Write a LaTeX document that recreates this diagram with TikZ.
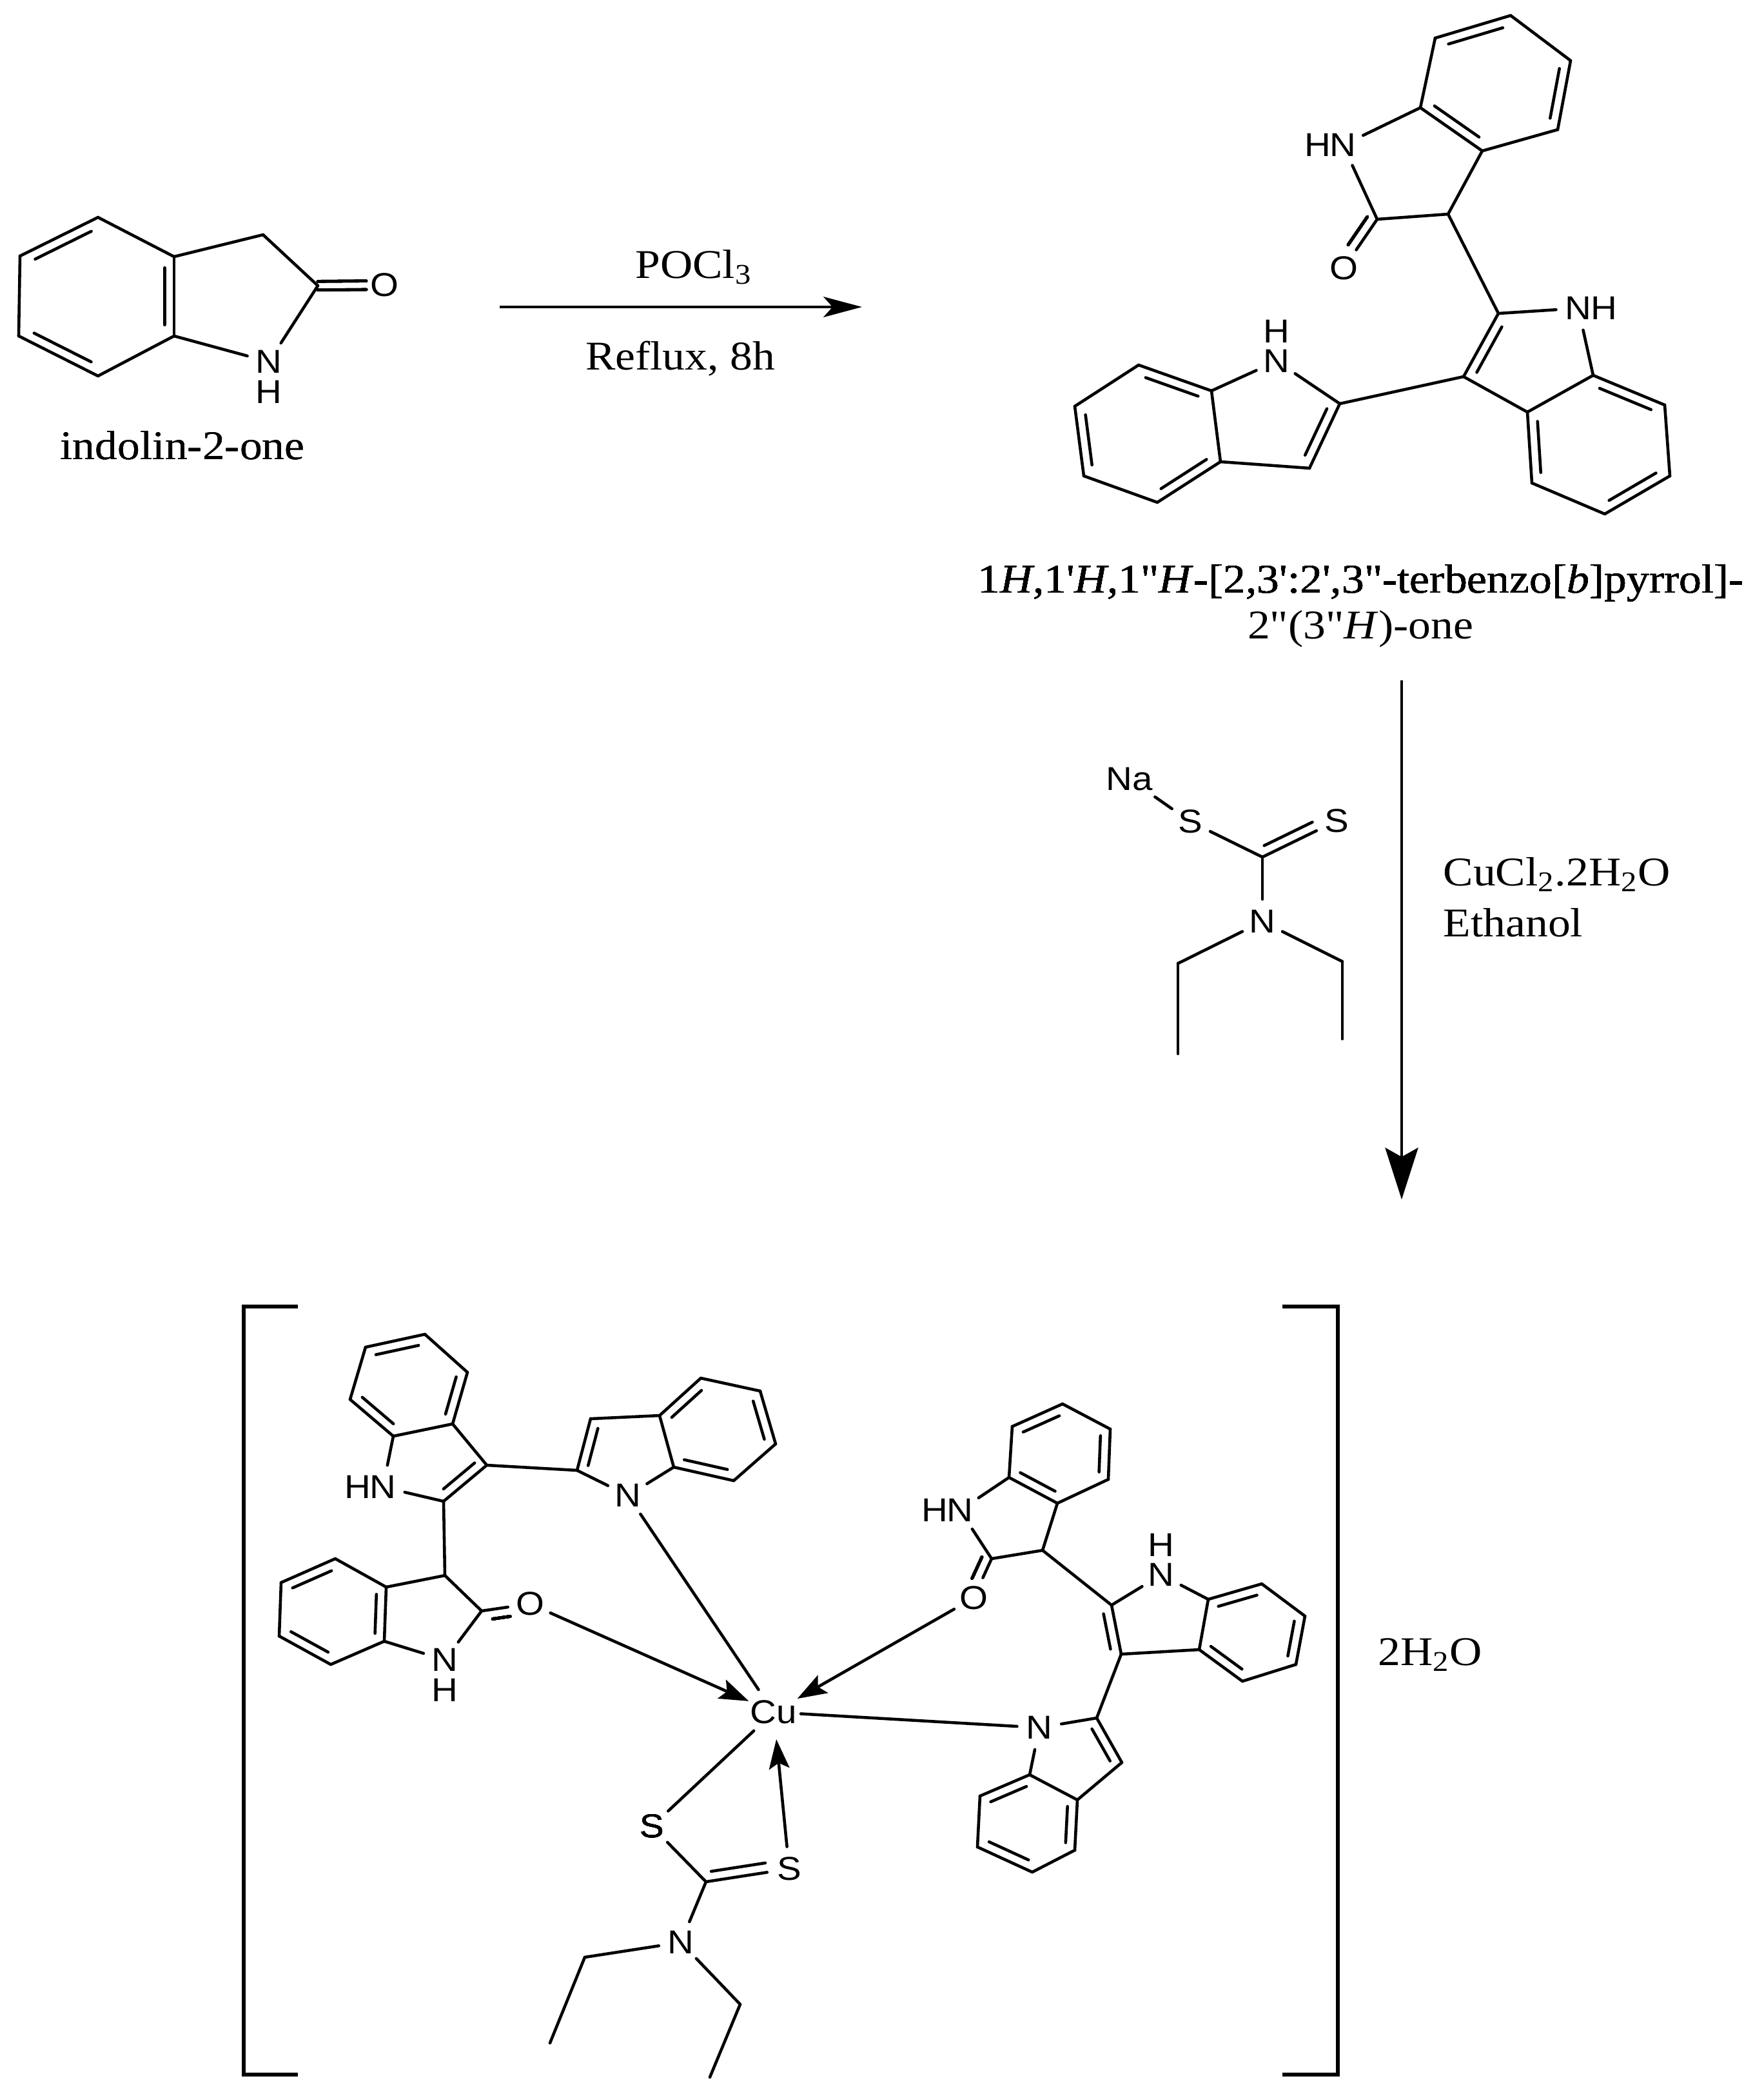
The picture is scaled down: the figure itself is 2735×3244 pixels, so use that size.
\documentclass[tikz,border=0pt]{standalone}
\usepackage{fontspec}
\usepackage{tikz}
\usetikzlibrary{calc}
\usetikzlibrary{positioning}
\usetikzlibrary{arrows.meta}
\newfontfamily\atomfam[FakeStretch=1.1]{Liberation Sans}
\newfontfamily\txtfam[FakeStretch=1.1]{Liberation Serif}
\tikzset{
	bond/.style={line width=1.3pt,line cap=round},
	atom/.style={circle,inner sep=0pt,minimum size=19.3pt,font=\atomfam\fontsize{14.6}{17}\selectfont},
	atomh/.style={inner sep=0pt,font=\atomfam\fontsize{14.6}{17}\selectfont},
	dative/.style={bond,-{Stealth[length=13pt,width=9pt,inset=2.5pt]}},
	brack/.style={line width=1.5pt,line join=miter},
	txt/.style={inner sep=0pt,anchor=base,font=\txtfam\fontsize{18}{21}\selectfont},
	txtl/.style={txt,anchor=base west}
}
% second line of a double bond, on the left of #1 -> #2
\newcommand{\offbond}[5]{\draw[bond] ($(#1)!#3!(#2)!#5!90:(#2)$) -- ($(#2)!#4!(#1)!#5!-90:(#1)$);}
\newcommand{\innerbond}[3]{\offbond{#1}{#2}{0.14}{0.14}{#3}}
\begin{document}
\begin{tikzpicture}[x=0.01cm,y=-0.01cm]
	\useasboundingbox (0,0) rectangle (2735,3244);
	\def\d{4.2pt}
	% indolin-2-one
	\foreach \n/\x/\y in {ox1/152/337,ox2/31/397,ox3/29/521,ox4/152/583,ox5/270/521,ox6/270/398,ox7/408/364,ox8/493/443}
		\coordinate (\n) at (\x,\y);
	\node[atom] (oxn) at (417,561) {N};
	\node[atomh,below=8pt of oxn.center] (oxh) {H};
	\node[atom,minimum size=17pt] (oxo) at (596,442) {O};
	\foreach \p/\q in {ox1/ox2,ox2/ox3,ox3/ox4,ox4/ox5,ox5/ox6,ox6/ox1,ox6/ox7,ox7/ox8,ox8/oxn,ox5/oxn}
		\draw[bond] (\p) -- (\q);
	\foreach \p/\q in {ox1/ox2,ox3/ox4,ox5/ox6}
		\innerbond{\p}{\q}{\d}
	\offbond{ox8}{oxo}{0}{0.27}{1.9pt}
	\offbond{ox8}{oxo}{0}{0.27}{-1.9pt}
	\node[txt] (oxname) at (283,712) {indolin-2-one};
	% first step
	\coordinate (r1s) at (775,476);
	\coordinate (r1e) at (1337,476);
	\draw[line width=1.4pt,-{Stealth[length=17pt,width=9pt,inset=4pt]}] (r1s) -- (r1e);
	\node[txt] (r1top) at (1076,431) {POCl\textsubscript{3}};
	\node[txt] (r1bot) at (1055,573) {Reflux, 8h};
	% terindole
	\foreach \n/\x/\y in {t1/2343/24,t2/2436/94,t3/2416/201,t4/2299/234,t5/2203/167,t6/2226/59,t7/2136/340,t8/2246/332,
		m2/2324/486,m3/2270/584,m4/2471/582,m5/2369/639,m6/2582/628,m7/2590/738,m8/2489/797,m9/2376/749,
		l2/2078/626,l3/2031/726,l4/1893/716,l5/1879/606,l6/1766/566,l7/1667/630,l8/1681/738,l9/1795/779}
		\coordinate (\n) at (\x,\y);
	\node[atom] (tn) at (2083,225) {N};
	\node[atomh,left=5.2pt of tn.center] (th) {H};
	\node[atom] (to) at (2084,416) {O};
	\node[atom] (mn) at (2448,478) {N};
	\node[atomh,right=5.2pt of mn.center] (mh) {H};
	\node[atom] (ln) at (1980,560) {N};
	\node[atomh,above=8pt of ln.center] (lh) {H};
	\foreach \p/\q in {t1/t2,t2/t3,t3/t4,t4/t5,t5/t6,t6/t1,t5/tn,tn/t7,t7/t8,t8/t4,t7/to,t8/m2,
		m2/mn,mn/m4,m2/m3,m3/m5,m4/m5,m4/m6,m6/m7,m7/m8,m8/m9,m9/m5,
		m3/l2,l2/ln,ln/l5,l2/l3,l3/l4,l4/l5,l5/l6,l6/l7,l7/l8,l8/l9,l9/l4}
		\draw[bond] (\p) -- (\q);
	\foreach \p/\q in {t1/t6,t3/t2,t5/t4,m2/m3,m6/m4,m8/m7,m5/m9,l3/l2,l5/l6,l7/l8,l9/l4}
		\innerbond{\p}{\q}{\d}
	\offbond{t7}{to}{0.06}{0.37}{-\d}
	\node[txt] (tname) at (2111,919) {1\textit{H},1'\textit{H},1"\textit{H}-[2,3':2',3"-terbenzo[\textit{b}]pyrrol]-};
	\node[txt] (tnameb) at (2110,990) {2"(3"\textit{H})-one};
	% second step
	\coordinate (r2s) at (2174,1055);
	\coordinate (r2e) at (2174,1860);
	\draw[line width=1.4pt,-{Stealth[length=22.8pt,width=14.5pt,inset=4pt]}] (r2s) -- (r2e);
	\node[atom,minimum size=27pt] (na) at (1752,1208) {Na};
	\node[atom] (ss) at (1846,1274) {S};
	\node[atom] (st) at (2073,1273) {S};
	\node[atom] (sn) at (1958,1429) {N};
	\foreach \n/\x/\y in {sc/1958/1329,se1/1827/1494,se2/1827/1634,sf1/2082/1491,sf2/2082/1611}
		\coordinate (\n) at (\x,\y);
	\foreach \p/\q in {na/ss,ss/sc,sc/st,sc/sn,sn/se1,se1/se2,sn/sf1,sf1/sf2}
		\draw[bond] (\p) -- (\q);
	\offbond{sc}{st}{0.08}{0.27}{\d}
	\node[txtl] (r2top) at (2238,1373) {CuCl\textsubscript{2}.2H\textsubscript{2}O};
	\node[txtl] (r2bot) at (2238,1452) {Ethanol};
	% complex
	\coordinate (bl1) at (462,2026);
	\coordinate (bl2) at (378,2026);
	\coordinate (bl3) at (378,3217);
	\coordinate (bl4) at (462,3217);
	\coordinate (br1) at (1989,2026);
	\coordinate (br2) at (2075,2026);
	\coordinate (br3) at (2075,3217);
	\coordinate (br4) at (1989,3217);
	\draw[brack] (bl1) -- (bl2) -- (bl3) -- (bl4);
	\draw[brack] (br1) -- (br2) -- (br3) -- (br4);
	\node[atom,minimum size=23.6pt] (cu) at (1200,2655) {Cu};
	\foreach \n/\x/\y in {a1/659/2069,a2/725/2128,a3/702/2208,a4/610/2227,a5/543/2170,a6/567/2089,a7/755/2272,a8/688/2328,
		c1/895/2280,c2/916/2200,c3/1023/2195,c4/1045/2275,c5/1087/2137,c6/1179/2157,c7/1203/2239,c8/1138/2296,
		b1/690/2443,b2/599/2461,b3/520/2417,b4/436/2454,b5/433/2537,b6/513/2581,b7/596/2545,b8/747/2498}
		\coordinate (\n) at (\x,\y);
	\node[atom] (an) at (594,2306) {N};
	\node[atomh,left=5.2pt of an.center] (ah) {H};
	\node[atom] (cn) at (974,2319) {N};
	\node[atom] (bn) at (690,2574) {N};
	\node[atomh,below=8pt of bn.center] (bh) {H};
	\node[atom] (bo) at (822,2487) {O};
	\foreach \p/\q in {a1/a2,a2/a3,a3/a4,a4/a5,a5/a6,a6/a1,a4/an,an/a8,a8/a7,a7/a3,a8/b1,a7/c1,
		c1/c2,c2/c3,c3/c4,c4/cn,cn/c1,c3/c5,c5/c6,c6/c7,c7/c8,c8/c4,
		b1/b2,b2/b3,b3/b4,b4/b5,b5/b6,b6/b7,b7/b2,b7/bn,bn/b8,b8/b1,b8/bo,cn/cu}
		\draw[bond] (\p) -- (\q);
	\foreach \p/\q in {a1/a6,a3/a2,a5/a4,a8/a7,c2/c1,c5/c3,c7/c6,c4/c8,b3/b4,b5/b6,b7/b2}
		\innerbond{\p}{\q}{\d}
	\offbond{b8}{bo}{0.2}{0.44}{-\d}
	\foreach \n/\x/\y in {d1/1648/2177,d2/1722/2216,d3/1719/2294,d4/1640/2331,d5/1565/2291,d6/1570/2212,d7/1538/2417,d8/1617/2404,
		e1/1724/2489,e3/1739/2565,e4/1860/2558,e5/1874/2480,e6/1957/2456,e7/2024/2506,e8/2010/2581,e9/1927/2607,
		f1/1701/2664,f2/1740/2733,f3/1671/2791,f4/1597/2752,f5/1520/2785,f6/1516/2864,f7/1601/2903,f8/1667/2869}
		\coordinate (\n) at (\x,\y);
	\node[atom] (dn) at (1489,2342) {N};
	\node[atomh,left=5.2pt of dn.center] (dh) {H};
	\node[atom] (do) at (1510,2478) {O};
	\node[atom] (en) at (1801,2442) {N};
	\node[atomh,above=8pt of en.center] (eh) {H};
	\node[atom] (fn) at (1612,2679) {N};
	\foreach \p/\q in {d1/d2,d2/d3,d3/d4,d4/d5,d5/d6,d6/d1,d5/dn,dn/d7,d7/d8,d8/d4,d7/do,d8/e1,
		e1/en,en/e5,e1/e3,e3/e4,e4/e5,e5/e6,e6/e7,e7/e8,e8/e9,e9/e4,e3/f1,
		f1/fn,f1/f2,f2/f3,f3/f4,f4/fn,f4/f5,f5/f6,f6/f7,f7/f8,f8/f3,cu/fn}
		\draw[bond] (\p) -- (\q);
	\foreach \p/\q in {d1/d6,d3/d2,d5/d4,e3/e1,e6/e5,e8/e7,e4/e9,f2/f1,f4/f5,f6/f7,f8/f3}
		\innerbond{\p}{\q}{\d}
	\offbond{d7}{do}{0.06}{0.4}{-\d}
	\node[atom] (us) at (1011,2832) {S};
	\node[atom] (vs) at (1224,2898) {S};
	\node[atom] (wn) at (1056,3012) {N};
	\foreach \n/\x/\y in {wc/1095/2918,w1/907/3035,w2/853/3168,w3/1148/3108,w4/1101/3221}
		\coordinate (\n) at (\x,\y);
	\foreach \p/\q in {us/cu,us/wc,wc/vs,wc/wn,wn/w1,w1/w2,wn/w3,w3/w4}
		\draw[bond] (\p) -- (\q);
	\offbond{wc}{vs}{0.08}{0.27}{\d}
	\draw[dative] (bo) -- (cu);
	\draw[dative] (do) -- (cu);
	\draw[dative] (vs) -- (cu);
	\node[txtl] (water) at (2137,2582) {2H\textsubscript{2}O};
\end{tikzpicture}
\end{document}
